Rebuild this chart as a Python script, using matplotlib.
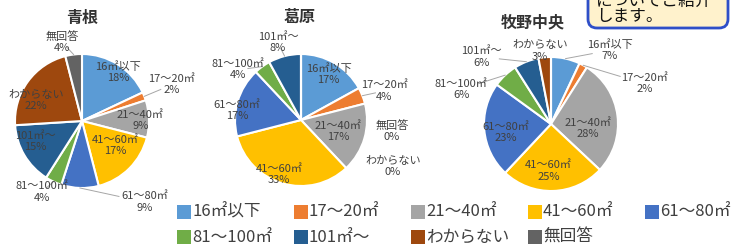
import numpy as np
import matplotlib
matplotlib.use('Agg')
import matplotlib.pyplot as plt
from matplotlib.patches import FancyBboxPatch, Rectangle

plt.rcParams['font.family'] = ['Noto Sans CJK JP', 'DejaVu Sans']

# data
categories = ['16㎡以下', '17～20㎡', '21～40㎡', '41～60㎡', '61～80㎡',
              '81～100㎡', '101㎡～', 'わからない', '無回答']
colors = ['#5B9BD5', '#ED7D31', '#A5A5A5', '#FFC000', '#4472C4',
          '#70AD47', '#255E91', '#9E480E', '#636363']
titles = ['青根', '葛原', '牧野中央']
aone = [18, 2, 9, 17, 9, 4, 15, 22, 4]
kuzuhara = [17, 4, 17, 33, 17, 4, 8, 0, 0]
makino = [7, 2, 28, 25, 23, 6, 6, 3, 0]

# layout (pixels, y measured from top)
W, H = 733, 246
centers = [(82, 121), (301, 120), (551, 124)]
radii = [67, 66, 67]
title_pos = [(82, 18), (300, 17), (533, 22)]
# label offsets in radius units (dx right, dy up)
label_off = [
    [(0.54, 0.73), (1.34, 0.54), (0.87, 0.01), (0.49, -0.37), (0.94, -1.21),
     (-0.60, -1.06), (-0.70, -0.31), (-0.69, 0.31), (-0.30, 1.18)],
    [(0.42, 0.70), (1.26, 0.44), (0.56, -0.17), (-0.33, -0.82), (-0.97, 0.15),
     (-0.95, 0.76), (-0.35, 1.17), (1.39, -0.70), (1.38, -0.17)],
    [(0.88, 1.10), (1.40, 0.60), (0.55, -0.07), (-0.04, -0.70), (-0.67, -0.13),
     (-1.34, 0.52), (-1.04, 1.00), (-0.16, 1.09), None],
]

fig = plt.figure(figsize=(W / 100, H / 100), dpi=100)
ax = fig.add_axes([0, 0, 1, 1])
ax.set_xlim(0, W)
ax.set_ylim(0, H)
ax.axis('off')

txtc = '#404040'
for k, vals in enumerate([aone, kuzuhara, makino]):
    cx, cy = centers[k]
    cy = H - cy
    r = radii[k]
    ax.pie(vals, colors=colors, startangle=90, counterclock=False,
           center=(cx, cy), radius=r, frame=True,
           wedgeprops=dict(edgecolor='white', linewidth=1.5))
    cum = 0
    for i, v in enumerate(vals):
        off = label_off[k][i]
        mid = np.radians(90 - 3.6 * (cum + v / 2))
        cum += v
        if off is None:
            continue
        lx, ly = cx + r * off[0], cy + r * off[1]
        if np.hypot(*off) > 1.15 and v > 0:
            ex, ey = cx + r * np.cos(mid), cy + r * np.sin(mid)
            ax.plot([ex, ex + 0.6 * (lx - ex)], [ey, ey + 0.6 * (ly - ey)],
                    color='#A6A6A6', lw=0.7, zorder=3)
        ax.text(lx, ly, f'{categories[i]}\n{v}%', ha='center', va='center',
                fontsize=8, color=txtc, linespacing=1.15, zorder=4)
    tx, ty = title_pos[k]
    ax.text(tx, H - ty, titles[k], ha='center', va='center', fontsize=11.5,
            fontweight='bold', color='#333333')

ax.set_xlim(0, W)
ax.set_ylim(0, H)
ax.set_aspect('auto')

# legend (manual grid like the excel one)
for i, cat in enumerate(categories):
    col, row = i % 5, i // 5
    x0 = 177 + col * 117
    y0 = H - (212 + row * 25)
    ax.add_patch(Rectangle((x0, y0 - 7), 14, 14, facecolor=colors[i],
                           edgecolor='none'))
    ax.text(x0 + 15, y0, cat, ha='left', va='center', fontsize=12, color=txtc)

# callout box at top right (cut off by the edge)
box = FancyBboxPatch((588, H - 28), 140, 60,
                     boxstyle='round,pad=0,rounding_size=9',
                     facecolor='#FFF2CC', edgecolor='#2F4FC8', lw=2, zorder=5)
ax.add_patch(box)
ax.text(596, H - 1, 'についてご紹介', ha='left', va='center', fontsize=12,
        color='#111111', zorder=6)
ax.text(596, H - 17, 'します。', ha='left', va='center', fontsize=12,
        color='#111111', zorder=6)

fig.savefig('out.png', dpi=100)
